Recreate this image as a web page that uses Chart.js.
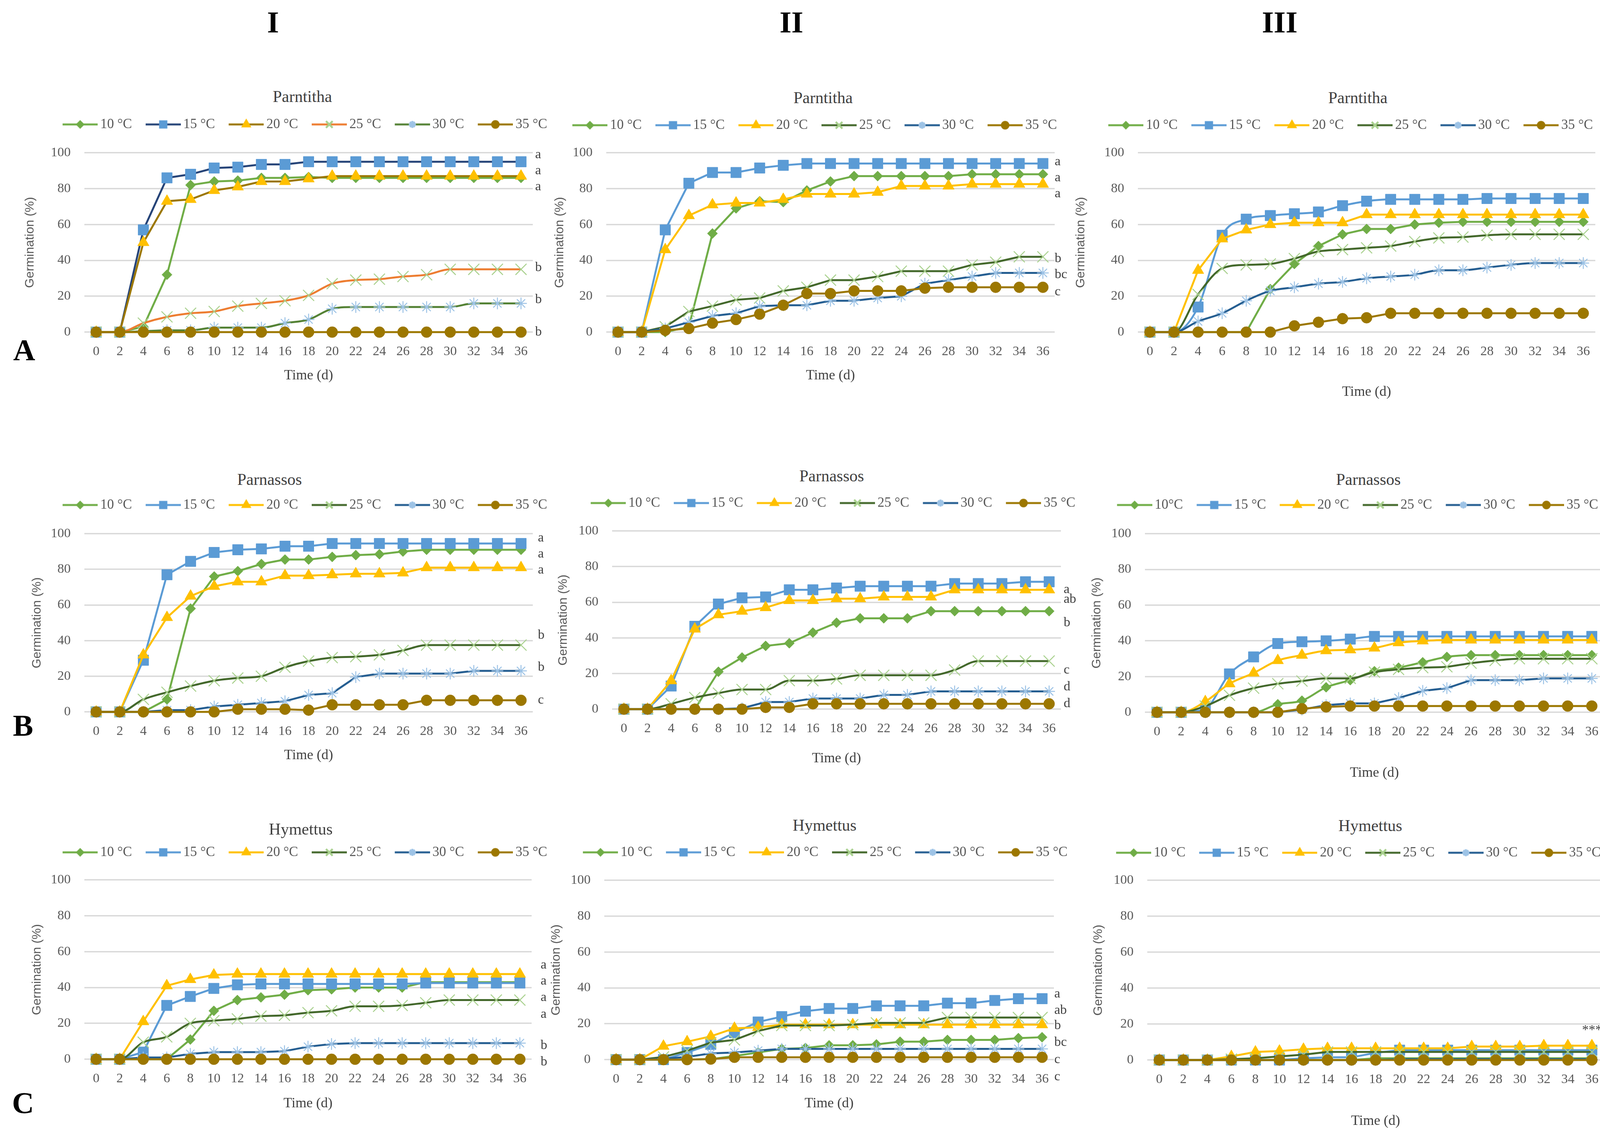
<!DOCTYPE html>
<html>
<head>
<meta charset="utf-8">
<script src="https://cdn.jsdelivr.net/npm/chart.js@4.4.1/dist/chart.umd.min.js"></script>
<style>
  html, body { margin: 0; padding: 0; background: #fff; width: 4197px; height: 2910px; overflow: hidden; }
  canvas { position: absolute; }
  .txt { position: absolute; transform: translate(-50%, -50%); line-height: 1; white-space: nowrap; font-family: "Liberation Serif", serif; }
  .hdr { font-size: 78px; font-weight: bold; color: #000; }
  .ttl { font-size: 42px; color: #404040; }
</style>
</head>
<body>
<script>
// days after sowing
const days = [0, 2, 4, 6, 8, 10, 12, 14, 16, 18, 20, 22, 24, 26, 28, 30, 32, 34, 36];
const tempLabels = ['10 °C', '15 °C', '20 °C', '25 °C', '30 °C', '35 °C'];
const tempLabelsB3 = ['10°C', '15 °C', '20 °C', '25 °C', '30 °C', '35 °C'];

// Parntitha, column I
const prtI_10 = [0, 0, 3, 32, 82, 84, 84.5, 86, 86, 86.5, 86, 86, 86, 86, 86, 86, 86, 86, 86];
const prtI_15 = [0, 0, 57, 86, 88, 91.5, 92, 93.5, 93.5, 95, 95, 95, 95, 95, 95, 95, 95, 95, 95];
const prtI_20 = [0, 0, 50, 73, 74, 79, 81, 84, 84, 85.5, 87, 87, 87, 87, 87, 87, 87, 87, 87];
const prtI_25 = [0, 0, 5, 8.5, 10.5, 11.5, 14.5, 16, 17.5, 20.5, 27, 29, 29.5, 31, 32, 35, 35, 35, 35];
const prtI_30 = [0, 0, 0.5, 1, 1, 2.5, 2.5, 2.5, 5, 7, 13, 14, 14, 14, 14, 14, 16, 16, 16];
const prtI_35 = [0, 0, 0, 0, 0, 0, 0, 0, 0, 0, 0, 0, 0, 0, 0, 0, 0, 0, 0];
const prtI_letters = ['a', 'a', 'a', 'b', 'b', 'b'];
const prtI_letterY = [99, 90, 81, 36, 18, 0];

// Parntitha, column II
const prtII_10 = [0, 0, 0, 3, 55, 69, 73, 72.5, 79, 84, 87, 87, 87, 87, 87, 88, 88, 88, 88];
const prtII_15 = [0, 0, 57, 83, 89, 89, 91.5, 93, 94, 94, 94, 94, 94, 94, 94, 94, 94, 94, 94];
const prtII_20 = [0, 0, 46, 65, 71, 72, 72, 74, 77, 77, 77, 78, 81.5, 81.5, 81.5, 82.5, 82.5, 82.5, 82.5];
const prtII_25 = [0, 0, 3, 11.5, 14.5, 18, 19, 23, 25, 29, 29, 31, 34, 34, 34, 37.5, 39, 42, 42];
const prtII_30 = [0, 0, 2, 5.5, 9, 10.5, 14.5, 15, 15, 17.5, 17.5, 19, 20, 27, 29, 31, 33, 33, 33];
const prtII_35 = [0, 0, 1, 2, 5, 7, 10, 15, 21.5, 21.5, 23, 23, 23, 24.5, 25, 25, 25, 25, 25];
const prtII_letters = ['a', 'a', 'a', 'b', 'bc', 'c'];
const prtII_letterY = [95, 86, 77, 41, 32, 22.5];

// Parntitha, column III
const prtIII_10 = [0, 0, 0, 0, 0, 24, 38, 48, 54.5, 57.5, 57.5, 60, 61, 61.5, 61.5, 61.5, 61.5, 61.5, 61.5];
const prtIII_15 = [0, 0, 14, 54, 63, 65, 66, 67, 70.5, 73, 74, 74, 74, 74, 74.5, 74.5, 74.5, 74.5, 74.5];
const prtIII_20 = [0, 0, 34.5, 52, 57, 60, 61, 61, 61, 65.5, 65.5, 65.5, 65.5, 65.5, 65.5, 65.5, 65.5, 65.5, 65.5];
const prtIII_25 = [0, 0, 21, 35.5, 37.5, 38, 41, 45, 46, 47, 48, 50.5, 52.5, 53, 54, 54.5, 54.5, 54.5, 54.5];
const prtIII_30 = [0, 0, 6, 10.5, 17.5, 23, 25, 27, 28, 30, 31, 32, 34.5, 34.5, 36, 37.5, 38.5, 38.5, 38.5];
const prtIII_35 = [0, 0, 0, 0, 0, 0, 3.5, 5.5, 7.5, 8, 10.5, 10.5, 10.5, 10.5, 10.5, 10.5, 10.5, 10.5, 10.5];
const prtIII_letters = ['a', 'a', 'ab', 'ab', 'b', 'c'];
const prtIII_letterY = [74.5, 65.5, 56.5, 47.5, 29, 10.5];

// Parnassos, column I
const prnI_10 = [0, 0, 0, 7, 58, 76, 79, 83, 85.5, 85.5, 87, 88, 88.5, 90, 91, 91, 91, 91, 91];
const prnI_15 = [0, 0, 29, 77, 84.5, 89.5, 91, 91.5, 93, 93, 94.5, 94.5, 94.5, 94.5, 94.5, 94.5, 94.5, 94.5, 94.5];
const prnI_20 = [0, 0, 32, 53, 65, 70.5, 73, 73, 76.5, 76.5, 77, 77.5, 77.5, 78, 81, 81, 81, 81, 81];
const prnI_25 = [0, 0, 7, 11, 14.5, 17.5, 19, 20, 25, 28.5, 30.5, 31, 32, 34.5, 37.5, 37.5, 37.5, 37.5, 37.5];
const prnI_30 = [0, 0, 0, 1, 1, 3, 4, 5, 6, 9.5, 10.5, 19.5, 21.5, 21.5, 21.5, 21.5, 23, 23, 23];
const prnI_35 = [0, 0, 0, 0, 0, 0, 1.5, 1.5, 1.5, 1, 4, 4, 4, 4, 6.5, 6.5, 6.5, 6.5, 6.5];
const prnI_letters = ['a', 'a', 'a', 'b', 'b', 'c'];
const prnI_letterY = [97.5, 88.5, 79.5, 43, 25, 6.5];

// Parnassos, column II
const prnII_10 = [0, 0, 0, 0, 21, 29, 35.5, 37, 43, 48.5, 51, 51, 51, 55, 55, 55, 55, 55, 55];
const prnII_15 = [0, 0, 13, 46.5, 59, 62.5, 63, 67, 67, 68, 69, 69, 69, 69, 70.5, 70.5, 70.5, 71.5, 71.5];
const prnII_20 = [0, 0, 16, 45, 53, 55, 57, 61, 61, 62, 62, 63, 63, 63, 67, 67, 67, 67, 67];
const prnII_25 = [0, 0, 3, 6.5, 9, 11, 11, 16, 16, 17, 19, 19, 19, 19, 22, 27, 27, 27, 27];
const prnII_30 = [0, 0, 0, 0, 0, 0.5, 4, 4, 6, 6, 6, 8, 8, 10, 10, 10, 10, 10, 10];
const prnII_35 = [0, 0, 0, 0, 0, 0, 1, 1, 3, 3, 3, 3, 3, 3, 3, 3, 3, 3, 3];
const prnII_letters = ['a', 'ab', 'b', 'c', 'd', 'd'];
const prnII_letterY = [67, 61.5, 48.5, 22, 12.5, 3];

// Parnassos, column III
const prnIII_10 = [0, 0, 0, 0, 0, 4.5, 6.5, 14, 18, 23, 25, 28, 31, 32, 32, 32, 32, 32, 32];
const prnIII_15 = [0, 0, 2, 21.5, 31, 38.5, 39.5, 40, 41, 42.5, 42.5, 42.5, 42.5, 42.5, 42.5, 42.5, 42.5, 42.5, 42.5];
const prnIII_20 = [0, 0, 6, 16, 22, 29, 32, 34.5, 35, 36, 39, 40, 40.5, 40.5, 40.5, 40.5, 40.5, 40.5, 40.5];
const prnIII_25 = [0, 0, 3.5, 9.5, 13.5, 16, 17.5, 19, 19, 22.5, 24, 25, 25.5, 27.5, 29, 30, 30, 30, 30];
const prnIII_30 = [0, 0, 0, 0, 0, 0, 1.5, 4, 5, 5, 8, 12, 13.5, 18, 18, 18, 19, 19, 19];
const prnIII_35 = [0, 0, 0, 0, 0, 0, 2, 3, 3.5, 3.5, 3.5, 3.5, 3.5, 3.5, 3.5, 3.5, 3.5, 3.5, 3.5];
const prnIII_letters = ['a', 'a', 'ab', 'ab', 'b', 'c'];
const prnIII_letterY = [49.5, 40.5, 31.5, 22.5, 13.5, 4];

// Hymettus, column I
const hymI_10 = [0, 0, 0, 0, 11, 27, 33, 34.5, 36, 38.5, 39, 40, 40, 40, 43, 43, 43, 43, 43];
const hymI_15 = [0, 0, 4, 30, 35, 39.5, 41.5, 42, 42, 42, 42, 42, 42, 42, 42.5, 42.5, 42.5, 42.5, 42.5];
const hymI_20 = [0, 0, 21, 41, 44.5, 47, 47.5, 47.5, 47.5, 47.5, 47.5, 47.5, 47.5, 47.5, 47.5, 47.5, 47.5, 47.5, 47.5];
const hymI_25 = [0, 0, 9.5, 12.5, 20, 21.5, 22.5, 24, 24.5, 26, 27, 29.5, 29.5, 30, 31.5, 33, 33, 33, 33];
const hymI_30 = [0, 0, 1, 1, 3, 4, 4, 4, 4.5, 7, 8.5, 9, 9, 9, 9, 9, 9, 9, 9];
const hymI_35 = [0, 0, 0, 0, 0, 0, 0, 0, 0, 0, 0, 0, 0, 0, 0, 0, 0, 0, 0];
const hymI_letters = ['a', 'a', 'a', 'a', 'b', 'b'];
const hymI_letterY = [52.5, 43.5, 34.5, 25, 7.5, -1.5];

// Hymettus, column II
const hymII_10 = [0, 0, 0, 0, 0.3, 2, 4, 6, 6.5, 8, 8, 8.5, 10, 10, 11, 11, 11, 12, 12.5];
const hymII_15 = [0, 0, 0, 4, 8.5, 15, 21, 24, 27, 28.5, 28.5, 30, 30, 30, 31.5, 31.5, 33, 34, 34];
const hymII_20 = [0, 0, 7.5, 10, 13, 17.5, 18, 19.5, 19.5, 19.5, 19.5, 19.5, 19.5, 19.5, 19.5, 19.5, 19.5, 19.5, 19.5];
const hymII_25 = [0, 0, 1.5, 5, 9.5, 11, 16, 19, 19, 19, 19.5, 20.5, 20.5, 20.5, 23.5, 23.5, 23.5, 23.5, 23.5];
const hymII_30 = [0, 0, 0.5, 1.5, 3.5, 4, 5, 6, 6, 6, 6, 6, 6, 6, 6, 6, 6, 6, 6];
const hymII_35 = [0, 0, 0, 0, 0.3, 1.3, 1.3, 1.3, 1.3, 1.3, 1.3, 1.3, 1.3, 1.3, 1.3, 1.3, 1.3, 1.3, 1.3];
const hymII_letters = ['a', 'ab', 'b', 'bc', 'c', 'c'];
const hymII_letterY = [36.5, 27.5, 19, 9.5, 0, -9.5];

// Hymettus, column III
const hymIII_10 = [0, 0, 0, 0, 0, 0, 0, 0, 0, 1, 1, 1, 1, 1, 1, 1, 1, 1, 1];
const hymIII_15 = [0, 0, 0, 0, 0, 0, 1, 1.5, 1.5, 4, 5.5, 5.5, 5.5, 5.5, 5.5, 5.5, 5.5, 5.5, 5.5];
const hymIII_20 = [0, 0, 0, 2, 4.5, 5, 6, 6.5, 6.5, 6.5, 6.5, 6.5, 6.5, 7.5, 7.5, 7.5, 8, 8, 8];
const hymIII_25 = [0, 0, 0, 0.5, 1, 2, 3, 4.5, 4.5, 4.5, 4.5, 4.5, 4.5, 4.5, 4.5, 4.5, 4.5, 4.5, 4.5];
const hymIII_30 = [0, 0, 0, 0, 0, 0, 0, 0, 0, 0, 0.5, 0.5, 0.5, 0.5, 0.5, 0.5, 0.5, 0.5, 0.5];
const hymIII_35 = [0, 0, 0, 0, 0, 0, 0, 0, 0, 0, 0, 0, 0, 0, 0, 0, 0, 0, 0];
const hymIII_letters = ['***'];
const hymIII_letterY = [16.5];

// styles
const markerStyle = ['rectRot', 'rect', 'triangle', 'crossRot', 'star', 'circle'];
const markerRadius = [13, 19, 17, 20, 15, 14];
const markerColor = ['#70AD47', '#5B9BD5', '#FFC000', '#A9D18E', '#9DC3E6', '#9C7700'];
const lineColor = ['#70AD47', '#5B9BD5', '#FFC000', '#43682B', '#255E91', '#9C7700'];
const lineColorPrtI = ['#70AD47', '#264478', '#9C7700', '#ED7D31', '#548235', '#9C7700'];

const SERIF = '"Liberation Serif", serif';
const SANS = '"Liberation Sans", sans-serif';

// layout of each panel in page pixels (plot area, legend centre, axis titles, letters)
const panels = [
  { title: 'Parntitha', series: [prtI_10, prtI_15, prtI_20, prtI_25, prtI_30, prtI_35], letters: prtI_letters, letterY: prtI_letterY,
    lines: lineColorPrtI, labels: tempLabels, smooth: [0, 0, 0, 1, 1, 0],
    g: { L: 216, R: 1364, T: 391, B: 850, legX: 775, legY: 318, yTitX: 77, xTitY: 961, letX: 1370, titX: 774, titY: 247 } },
  { title: 'Parntitha', series: [prtII_10, prtII_15, prtII_20, prtII_25, prtII_30, prtII_35], letters: prtII_letters, letterY: prtII_letterY,
    lines: lineColor, labels: tempLabels, smooth: [0, 0, 0, 0, 0, 0],
    g: { L: 1552, R: 2700, T: 391, B: 850, legX: 2080, legY: 320, yTitX: 1433, xTitY: 961, letX: 2700, titX: 2107, titY: 250 } },
  { title: 'Parntitha', series: [prtIII_10, prtIII_15, prtIII_20, prtIII_25, prtIII_30, prtIII_35], letters: prtIII_letters, letterY: prtIII_letterY,
    lines: lineColor, labels: tempLabels, smooth: [0, 1, 0, 1, 1, 0],
    g: { L: 2913, R: 4084, T: 391, B: 850, legX: 3452, legY: 320, yTitX: 2767, xTitY: 1003, letX: 4098, titX: 3476, titY: 250 } },
  { title: 'Parnassos', series: [prnI_10, prnI_15, prnI_20, prnI_25, prnI_30, prnI_35], letters: prnI_letters, letterY: prnI_letterY,
    lines: lineColor, labels: tempLabels, smooth: [0, 0, 0, 1, 0, 0],
    g: { L: 216, R: 1364, T: 1366, B: 1822, legX: 775, legY: 1292, yTitX: 95, xTitY: 1933, letX: 1377, titX: 690, titY: 1227 } },
  { title: 'Parnassos', series: [prnII_10, prnII_15, prnII_20, prnII_25, prnII_30, prnII_35], letters: prnII_letters, letterY: prnII_letterY,
    lines: lineColor, labels: tempLabels, smooth: [0, 0, 0, 1, 0, 0],
    g: { L: 1567, R: 2716, T: 1359, B: 1815, legX: 2127, legY: 1287, yTitX: 1442, xTitY: 1941, letX: 2723, titX: 2129, titY: 1218 } },
  { title: 'Parnassos', series: [prnIII_10, prnIII_15, prnIII_20, prnIII_25, prnIII_30, prnIII_35], letters: prnIII_letters, letterY: prnIII_letterY,
    lines: lineColor, labels: tempLabelsB3, smooth: [1, 1, 1, 1, 0, 0],
    g: { L: 2931, R: 4106, T: 1366, B: 1823, legX: 3470, legY: 1292, yTitX: 2808, xTitY: 1978, letX: 4136, titX: 3503, titY: 1227 } },
  { title: 'Hymettus', series: [hymI_10, hymI_15, hymI_20, hymI_25, hymI_30, hymI_35], letters: hymI_letters, letterY: hymI_letterY,
    lines: lineColor, labels: tempLabels, smooth: [0, 0, 0, 1, 0, 0],
    g: { L: 216, R: 1361, T: 2252, B: 2711, legX: 775, legY: 2181, yTitX: 95, xTitY: 2824, letX: 1384, titX: 770, titY: 2122 } },
  { title: 'Hymettus', series: [hymII_10, hymII_15, hymII_20, hymII_25, hymII_30, hymII_35], letters: hymII_letters, letterY: hymII_letterY,
    lines: lineColor, labels: tempLabels, smooth: [0, 0, 0, 0, 0, 0],
    g: { L: 1547, R: 2698, T: 2253, B: 2712, legX: 2107, legY: 2181, yTitX: 1424, xTitY: 2824, letX: 2699, titX: 2111, titY: 2112 } },
  { title: 'Hymettus', series: [hymIII_10, hymIII_15, hymIII_20, hymIII_25, hymIII_30, hymIII_35], letters: hymIII_letters, letterY: hymIII_letterY,
    lines: lineColor, labels: tempLabels, smooth: [0, 0, 0, 0, 0, 0],
    g: { L: 2937, R: 4106, T: 2253, B: 2713, legX: 3472, legY: 2182, yTitX: 2812, xTitY: 2869, letX: 4050, titX: 3508, titY: 2113 } }
];

function addText(text, x, y, cls) {
  const d = document.createElement('div');
  d.className = 'txt ' + cls;
  d.style.left = x + 'px';
  d.style.top = y + 'px';
  d.textContent = text;
  document.body.appendChild(d);
}

// small line + marker picture used as legend symbol
function legendSymbol(lineC, markC, style, r) {
  const c = document.createElement('canvas');
  c.width = 112;
  c.height = 36;
  const x = c.getContext('2d');
  x.strokeStyle = lineC;
  x.lineWidth = 5;
  x.beginPath();
  x.moveTo(22, 18);
  x.lineTo(112, 18);
  x.stroke();
  x.fillStyle = markC;
  x.strokeStyle = markC;
  const bw = (style === 'crossRot' || style === 'star') ? 2 : 1;
  if (Chart.helpers && Chart.helpers.drawPoint) {
    Chart.helpers.drawPoint(x, { pointStyle: style, radius: r, rotation: 0, borderWidth: bw }, 67, 18);
  }
  return c;
}

const letterPlugin = {
  id: 'sigLetters',
  afterDraw(chart, args, opts) {
    const { ctx } = chart;
    const y = chart.scales.y;
    ctx.save();
    ctx.font = '34px ' + SERIF;
    ctx.fillStyle = '#404040';
    ctx.textAlign = 'left';
    ctx.textBaseline = 'middle';
    opts.letters.forEach((t, i) => ctx.fillText(t, opts.x, y.getPixelForValue(opts.values[i])));
    ctx.restore();
  }
};

function buildPanel(p) {
  const g = p.g;
  const pad = 24, fs = 35;
  const half = Math.max(g.legX - (g.yTitX - 20), g.R + 90 - g.legX);
  const cl = Math.round(g.legX - half);
  const cr = Math.round(g.legX + half);
  const ct = Math.round(g.legY - fs / 2 - pad);
  const cb = Math.round(g.xTitY + 36 * 1.2 / 2);
  const legendH = fs + pad + 10;
  const spacer = g.T - (ct + legendH) - 1;
  const yAxisW = g.L - cl;
  const yTitlePad = g.yTitX - 32 * 1.2 / 2 - cl;
  const rightW = cr - g.R;
  const xAxisH = cb - g.B;

  const canvas = document.createElement('canvas');
  canvas.width = cr - cl;
  canvas.height = cb - ct;
  canvas.style.left = cl + 'px';
  canvas.style.top = ct + 'px';
  document.body.appendChild(canvas);

  const symbols = p.series.map((s, i) => legendSymbol(p.lines[i], markerColor[i], markerStyle[i], markerRadius[i] * 0.6));

  const datasets = p.series.map((s, i) => ({
    label: p.labels[i],
    data: s,
    borderColor: p.lines[i],
    backgroundColor: markerColor[i],
    borderWidth: 5,
    pointStyle: markerStyle[i],
    pointRadius: markerRadius[i],
    pointBackgroundColor: markerColor[i],
    pointBorderColor: markerColor[i],
    pointBorderWidth: (markerStyle[i] === 'crossRot' || markerStyle[i] === 'star') ? 2.5 : 1,
    cubicInterpolationMode: p.smooth[i] ? 'monotone' : 'default',
    tension: 0,
    clip: false,
    order: 5 - i
  }));

  new Chart(canvas, {
    type: 'line',
    data: { labels: days.map(String), datasets },
    options: {
      responsive: false,
      devicePixelRatio: 1,
      animation: false,
      events: [],
      layout: { padding: 0 },
      plugins: {
        title: { display: false },
        subtitle: { display: true, text: '', position: 'top', weight: 500, font: { size: 1, lineHeight: 1 }, padding: { top: spacer, bottom: 0 } },
        legend: {
          display: true,
          position: 'top',
          weight: 1000,
          labels: {
            usePointStyle: true,
            pointStyleWidth: 90,
            padding: pad,
            color: '#595959',
            font: { family: SERIF, size: fs },
            generateLabels: (chart) => chart.data.datasets.map((ds, i) => ({
              text: ds.label, pointStyle: symbols[i], fillStyle: ds.borderColor,
              strokeStyle: ds.borderColor, lineWidth: 0, hidden: false, datasetIndex: i, fontColor: '#595959'
            }))
          }
        },
        tooltip: { enabled: false },
        sigLetters: { letters: p.letters, values: p.letterY, x: g.letX - cl }
      },
      scales: {
        x: {
          type: 'category',
          offset: true,
          grid: { display: false, drawTicks: false },
          border: { display: false },
          ticks: { color: '#595959', font: { family: SERIF, size: 34 }, padding: 30, maxRotation: 0, autoSkip: false },
          title: { display: true, text: 'Time (d)', color: '#404040', font: { family: SERIF, size: 36 }, padding: 0 },
          afterFit: (s) => { s.height = xAxisH; }
        },
        y: {
          min: 0,
          max: 100,
          grid: { color: '#D9D9D9', lineWidth: 3.5, drawTicks: false },
          border: { display: false },
          ticks: { stepSize: 20, color: '#595959', font: { family: SERIF, size: 34 }, padding: 35 },
          title: { display: true, text: 'Germination (%)', color: '#595959', font: { family: SANS, size: 32 }, padding: { top: yTitlePad, bottom: 0 } },
          afterFit: (s) => { s.width = yAxisW; }
        },
        yr: {
          type: 'linear',
          position: 'right',
          display: true,
          grid: { display: false },
          border: { display: false },
          ticks: { display: false },
          afterFit: (s) => { s.width = rightW; }
        }
      }
    },
    plugins: [letterPlugin]
  });

  addText(p.title, g.titX, g.titY, 'ttl');
}

panels.forEach(buildPanel);

// column and row headings
addText('I', 699, 57, 'hdr');
addText('II', 2026, 57, 'hdr');
addText('III', 3276, 57, 'hdr');
addText('A', 62, 896, 'hdr');
addText('B', 59, 1857, 'hdr');
addText('C', 59, 2823, 'hdr');
</script>
</body>
</html>
